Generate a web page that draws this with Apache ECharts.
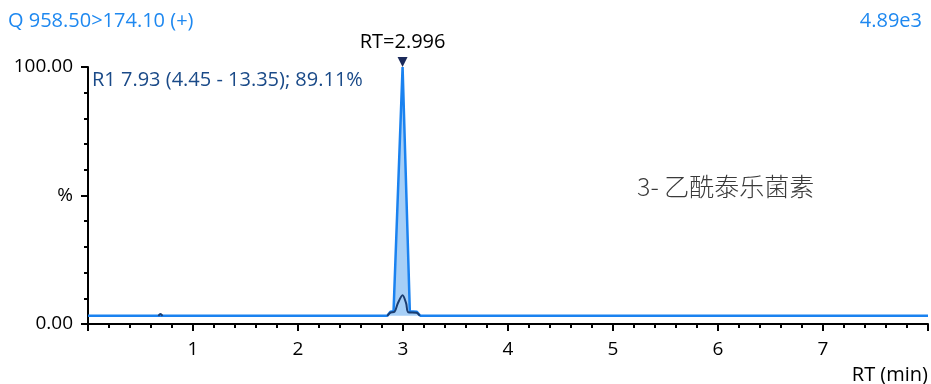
<!DOCTYPE html>
<html>
<head>
<meta charset="utf-8">
<script src="https://cdn.jsdelivr.net/npm/echarts@6/dist/echarts.min.js"></script>
<style>
  html, body { margin: 0; padding: 0; background: #fff; }
  #chart { width: 931px; height: 384px; }
</style>
</head>
<body>
<div id="chart"></div>
<script>
// outer trace (blue), RT in min vs %
var traceRT   = [0, 2.85, 2.88, 2.91, 2.996, 3.065, 3.13, 3.165, 8];
var traceVal  = [3.2, 3.2, 4.8, 5.0, 100, 5.0, 4.8, 3.2, 3.2];
// inner trace (navy)
var innerRT   = [0.67, 0.69, 0.71, 1.5, 2.85, 2.88, 2.92, 2.95, 2.996, 3.03, 3.05, 3.13, 3.16];
var innerVal  = [3.2, 3.9, 3.2, '-', 3.2, 4.4, 4.8, 8, 11.2, 8, 4.6, 4.4, 3.2];
var peakRT = 2.996;
var peakVal = 100;
var baseLevel = 3.2;

var yLabels = { 0: '0.00', 50: '%', 100: '100.00' };
var FONT = '"Open Sans", "Noto Sans", sans-serif';

function zip(xs, ys) {
    return xs.map((x, i) => [x, ys[i]]);
}

var myChart = echarts.init(document.getElementById('chart'));

var option = {
    animation: false,
    grid: { left: 88, right: 0, top: 67, bottom: 60 },
    xAxis: {
        type: 'value',
        min: 0,
        max: 8,
        interval: 1,
        axisLine: { show: true, lineStyle: { color: '#000', width: 2 } },
        axisTick: { show: true, length: 7, lineStyle: { color: '#000', width: 2 } },
        minorTick: { show: true, splitNumber: 5, length: 4, lineStyle: { color: '#000', width: 2 } },
        splitLine: { show: false },
        axisLabel: {
            color: '#000', fontSize: 19, fontFamily: FONT, margin: 16,
            formatter: v => (v === 0 || v === 8) ? '' : String(v)
        }
    },
    yAxis: {
        type: 'value',
        min: 0,
        max: 100,
        interval: 50,
        axisLine: { show: true, lineStyle: { color: '#000', width: 2 } },
        axisTick: { show: true, length: 7, lineStyle: { color: '#000', width: 2 } },
        minorTick: { show: true, splitNumber: 5, length: 4, lineStyle: { color: '#000', width: 2 } },
        splitLine: { show: false },
        axisLabel: {
            color: '#000', fontSize: 19, fontFamily: FONT, margin: 15,
            formatter: v => yLabels[v] !== undefined ? yLabels[v] : ''
        }
    },
    series: [
        {
            type: 'line',
            data: zip(traceRT, traceVal),
            symbol: 'none',
            lineStyle: { color: '#1a82f0', width: 2.5 },
            areaStyle: { color: '#a6cff7', opacity: 1, origin: baseLevel },
            z: 2
        },
        {
            type: 'line',
            data: zip(innerRT, innerVal),
            symbol: 'none',
            smooth: 0.3,
            connectNulls: false,
            lineStyle: { color: '#1b3d70', width: 2 },
            z: 3
        },
        {
            type: 'scatter',
            data: [[peakRT, peakVal]],
            symbol: 'triangle',
            symbolRotate: 180,
            symbolSize: [10, 10],
            symbolOffset: [0, -5],
            itemStyle: { color: '#1b2a5a', opacity: 1 },
            label: {
                show: true,
                position: 'top',
                distance: 5,
                color: '#000',
                fontSize: 20,
                fontFamily: FONT,
                formatter: p => 'RT=' + p.value[0].toFixed(3)
            },
            z: 4
        }
    ],
    graphic: [
        { type: 'text', left: 8, top: 11,
          style: { text: 'Q 958.50>174.10 (+)', fill: '#1e88f0', font: '20px ' + FONT } },
        { type: 'text', right: 9, top: 11,
          style: { text: '4.89e3', fill: '#1e88f0', font: '20px ' + FONT } },
        { type: 'text', left: 92, top: 70,
          style: { text: 'R1 7.93 (4.45 - 13.35); 89.11%', fill: '#1a4a88', font: '20px ' + FONT } },
        { type: 'text', left: 637, top: 174,
          style: { text: '3- 乙酰泰乐菌素', fill: '#3a3a3a', font: '300 25px "Noto Sans CJK SC", sans-serif' } },
        { type: 'text', right: 3, top: 365,
          style: { text: 'RT (min)', fill: '#000', font: '20px ' + FONT } }
    ]
};

myChart.setOption(option);
</script>
</body>
</html>
